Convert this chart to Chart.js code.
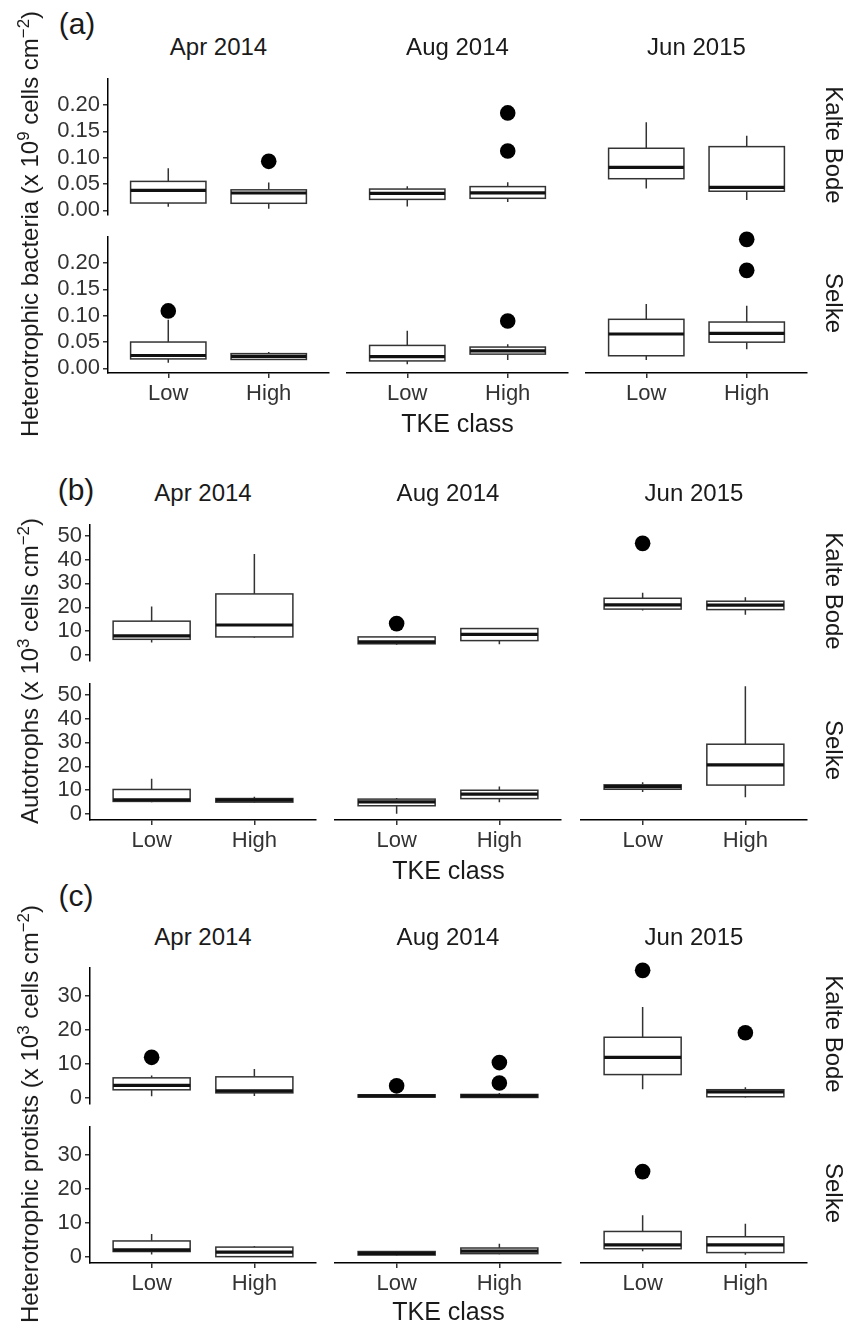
<!DOCTYPE html>
<html>
<head>
<meta charset="utf-8">
<script src="https://cdn.jsdelivr.net/npm/chart.js@4.4.1/dist/chart.umd.min.js"></script>
<style>
  body { margin: 0; background: #fff; width: 846px; height: 1323px; position: relative; overflow: hidden;
         font-family: "Liberation Sans", Arial, sans-serif; }
  canvas { position: absolute; }
  .txt { position: absolute; white-space: nowrap; color: #1a1a1a; line-height: 1; }
  .txt sup { font-size: 0.7em; line-height: 0; vertical-align: 0.55em; }
</style>
</head>
<body>
<script>
const months = ['Apr 2014', 'Aug 2014', 'Jun 2015'];
const rivers = ['Kalte Bode', 'Selke'];
const tkeClasses = ['Low', 'High'];

// box stats: [lower whisker, Q1, median, Q3, upper whisker]
// order: Apr Low, Apr High, Aug Low, Aug High, Jun Low, Jun High
const bacteriaKalteBode = [
  [0.007, 0.014, 0.038, 0.055, 0.080], [0.003, 0.0135, 0.033, 0.039, 0.053],
  [0.007, 0.020, 0.031, 0.039, 0.044], [0.015, 0.022, 0.032, 0.0435, 0.0515],
  [0.040, 0.058, 0.079, 0.114, 0.162], [0.019, 0.035, 0.042, 0.117, 0.137]
];
const bacteriaKalteBodeOut = [[], [0.093], [], [0.109, 0.179], [], []];
const bacteriaSelke = [
  [0.0105, 0.018, 0.0245, 0.050, 0.092], [0.016, 0.017, 0.023, 0.028, 0.031],
  [0.0075, 0.0135, 0.0215, 0.042, 0.069], [0.015, 0.026, 0.032, 0.039, 0.044],
  [0.015, 0.023, 0.063, 0.090, 0.118], [0.035, 0.048, 0.064, 0.085, 0.115]
];
const bacteriaSelkeOut = [[0.109], [], [], [0.087], [], [0.180, 0.237]];

const autotrophsKalteBode = [
  [5.3, 6.6, 8.0, 14.2, 20.3], [7.3, 7.6, 12.6, 25.6, 42.3],
  [4.1, 4.5, 5.3, 7.3, 7.5], [4.3, 5.8, 8.3, 10.7, 10.8],
  [18.0, 18.6, 20.3, 23.0, 25.2], [16.3, 18.4, 20.2, 21.8, 23.4]
];
const autotrophsKalteBodeOut = [[], [], [12.7], [], [45.3], []];
const autotrophsSelke = [
  [4.9, 5.3, 6.0, 10.3, 14.8], [4.6, 5.0, 5.8, 6.5, 7.3],
  [0.1, 3.3, 4.9, 6.0, 6.5], [4.7, 6.2, 8.0, 9.6, 11.1],
  [8.9, 10.0, 11.1, 11.8, 12.9], [6.8, 11.7, 19.9, 28.3, 51.8]
];
const autotrophsSelkeOut = [[], [], [], [], [], []];

const protistsKalteBode = [
  [0.5, 2.4, 3.7, 5.9, 6.6], [0.6, 1.5, 2.1, 6.2, 8.5],
  [0.1, 0.2, 0.57, 0.85, 1.0], [0.05, 0.1, 0.57, 0.95, 1.4],
  [2.4, 6.6, 11.5, 17.2, 25.8], [0.1, 0.3, 1.7, 2.3, 3.0]
];
const protistsKalteBodeOut = [[11.9], [], [3.4], [4.2, 10.0], [36.2], [18.5]];
const protistsSelke = [
  [0.75, 1.6, 2.1, 4.7, 6.7], [0.1, 0.1, 1.4, 2.9, 3.2],
  [0.4, 0.5, 0.95, 1.5, 1.6], [0.7, 0.9, 1.6, 2.5, 3.7],
  [1.6, 2.3, 3.4, 7.2, 11.8], [0.6, 1.2, 3.4, 5.7, 9.4]
];
const protistsSelkeOut = [[], [], [], [], [24.2], []];

const yTicksBacteria = [0, 0.05, 0.10, 0.15, 0.20];
const yTicksAutotrophs = [0, 10, 20, 30, 40, 50];
const yTicksProtists = [0, 10, 20, 30];

Chart.defaults.font.family = '"Liberation Sans", Arial, sans-serif';

const panels = [
  { tag: '(a)', title: 'Heterotrophic bacteria (x 10<sup>9</sup> cells cm<sup>−2</sup>)',
    boxes: [bacteriaKalteBode, bacteriaSelke], outs: [bacteriaKalteBodeOut, bacteriaSelkeOut],
    ticks: yTicksBacteria, digits: 2,
    cols: [108, 347, 586], w: 221, rows: [75, 233], h: 140,
    tagXY: [77, 24], stripY: 47, xTitleY: 423 },
  { tag: '(b)', title: 'Autotrophs (x 10<sup>3</sup> cells cm<sup>−2</sup>)',
    boxes: [autotrophsKalteBode, autotrophsSelke], outs: [autotrophsKalteBodeOut, autotrophsSelkeOut],
    ticks: yTicksAutotrophs, digits: 0,
    cols: [90, 335, 581], w: 226, rows: [521, 680], h: 140,
    tagXY: [76, 490], stripY: 493, xTitleY: 870 },
  { tag: '(c)', title: 'Heterotrophic protists (x 10<sup>3</sup> cells cm<sup>−2</sup>)',
    boxes: [protistsKalteBode, protistsSelke], outs: [protistsKalteBodeOut, protistsSelkeOut],
    ticks: yTicksProtists, digits: 0,
    cols: [90, 335, 581], w: 226, rows: [964, 1123], h: 140,
    tagXY: [76, 896], stripY: 937, xTitleY: 1311 }
];

const AXW = 70, AXH = 50, PAD = 12;

function addText(html, x, y, size, rot) {
  const d = document.createElement('div');
  d.className = 'txt';
  d.innerHTML = html;
  d.style.left = x + 'px';
  d.style.top = y + 'px';
  d.style.fontSize = size + 'px';
  d.style.transform = 'translate(-50%,-50%)' + (rot ? ' rotate(' + rot + 'deg)' : '');
  document.body.appendChild(d);
}

function boxPlugin(stats) {
  return {
    id: 'boxes',
    beforeDatasetsDraw(chart) {
      const { ctx, scales: { x, y } } = chart;
      ctx.save();
      stats.forEach((s, k) => {
        const xc = x.getPixelForValue(k);
        const half = x.getPixelForValue(k + 0.375) - xc;
        const py = s.map(v => y.getPixelForValue(v));
        ctx.strokeStyle = '#333';
        ctx.lineWidth = 1.5;
        ctx.beginPath();
        ctx.moveTo(xc, py[3]); ctx.lineTo(xc, py[4]);
        ctx.moveTo(xc, py[1]); ctx.lineTo(xc, py[0]);
        ctx.stroke();
        ctx.fillStyle = '#fff';
        ctx.fillRect(xc - half, py[3], half * 2, py[1] - py[3]);
        ctx.strokeRect(xc - half, py[3], half * 2, py[1] - py[3]);
        ctx.strokeStyle = '#111';
        ctx.lineWidth = 3.2;
        ctx.beginPath();
        ctx.moveTo(xc - half, py[2]); ctx.lineTo(xc + half, py[2]);
        ctx.stroke();
      });
      ctx.restore();
    }
  };
}

panels.forEach(p => {
  // shared y range per panel, expanded 5% like ggplot
  const all = [];
  p.boxes.forEach(b => b.forEach(s => all.push(...s)));
  p.outs.forEach(o => o.forEach(list => all.push(...list)));
  const lo = Math.min(...all), hi = Math.max(...all);
  const yMin = lo - (hi - lo) * 0.05, yMax = hi + (hi - lo) * 0.05;

  p.rows.forEach((top, r) => {
    p.cols.forEach((left, c) => {
      const cv = document.createElement('canvas');
      cv.width = p.w + AXW + PAD;
      cv.height = p.h + AXH + PAD;
      cv.style.left = (left - AXW) + 'px';
      cv.style.top = (top - PAD) + 'px';
      document.body.appendChild(cv);

      const showY = c === 0, showX = r === 1;
      const stats = [p.boxes[r][c * 2], p.boxes[r][c * 2 + 1]];
      const pts = [];
      [0, 1].forEach(k => p.outs[r][c * 2 + k].forEach(v => pts.push({ x: k, y: v })));

      new Chart(cv, {
        type: 'scatter',
        data: { datasets: [{ data: pts, pointRadius: 7.8, pointBackgroundColor: '#000',
                             pointBorderWidth: 0, clip: false }] },
        options: {
          responsive: false, animation: false, events: [],
          layout: { padding: { top: PAD, right: PAD, left: 0, bottom: 0 } },
          plugins: { legend: { display: false }, tooltip: { enabled: false } },
          scales: {
            x: {
              type: 'linear', min: -0.6, max: 1.6,
              afterBuildTicks: s => { s.ticks = [{ value: 0 }, { value: 1 }]; },
              afterFit: s => { s.height = AXH; },
              grid: { display: showX, drawOnChartArea: false, tickLength: 5, color: '#333', lineWidth: 1.5 },
              border: { display: showX, color: '#000', width: 1.5 },
              ticks: { display: showX, callback: v => tkeClasses[v], color: '#333',
                       font: { size: 22 }, padding: 3, maxRotation: 0, autoSkip: false }
            },
            y: {
              min: yMin, max: yMax,
              afterBuildTicks: s => { s.ticks = p.ticks.map(v => ({ value: v })); },
              afterFit: s => { s.width = AXW; },
              grid: { display: showY, drawOnChartArea: false, tickLength: 5, color: '#333', lineWidth: 1.5 },
              border: { display: showY, color: '#000', width: 1.5 },
              ticks: { display: showY, callback: v => v.toFixed(p.digits), color: '#333',
                       font: { size: 22 }, padding: 3, autoSkip: false }
            }
          }
        },
        plugins: [boxPlugin(stats)]
      });
    });
  });

  // strips, tag, axis titles
  months.forEach((m, c) => addText(m, p.cols[c] + p.w / 2, p.stripY, 24));
  rivers.forEach((rv, r) => addText(rv, 834, p.rows[r] + p.h / 2, 24, 90));
  addText(p.tag, p.tagXY[0], p.tagXY[1], 30);
  const plotLeft = p.cols[0], plotRight = p.cols[2] + p.w;
  addText('TKE class', (plotLeft + plotRight) / 2, p.xTitleY, 25);
  addText(p.title, 30, (p.rows[0] + p.rows[1] + p.h) / 2, 24, -90);
});
</script>
</body>
</html>
